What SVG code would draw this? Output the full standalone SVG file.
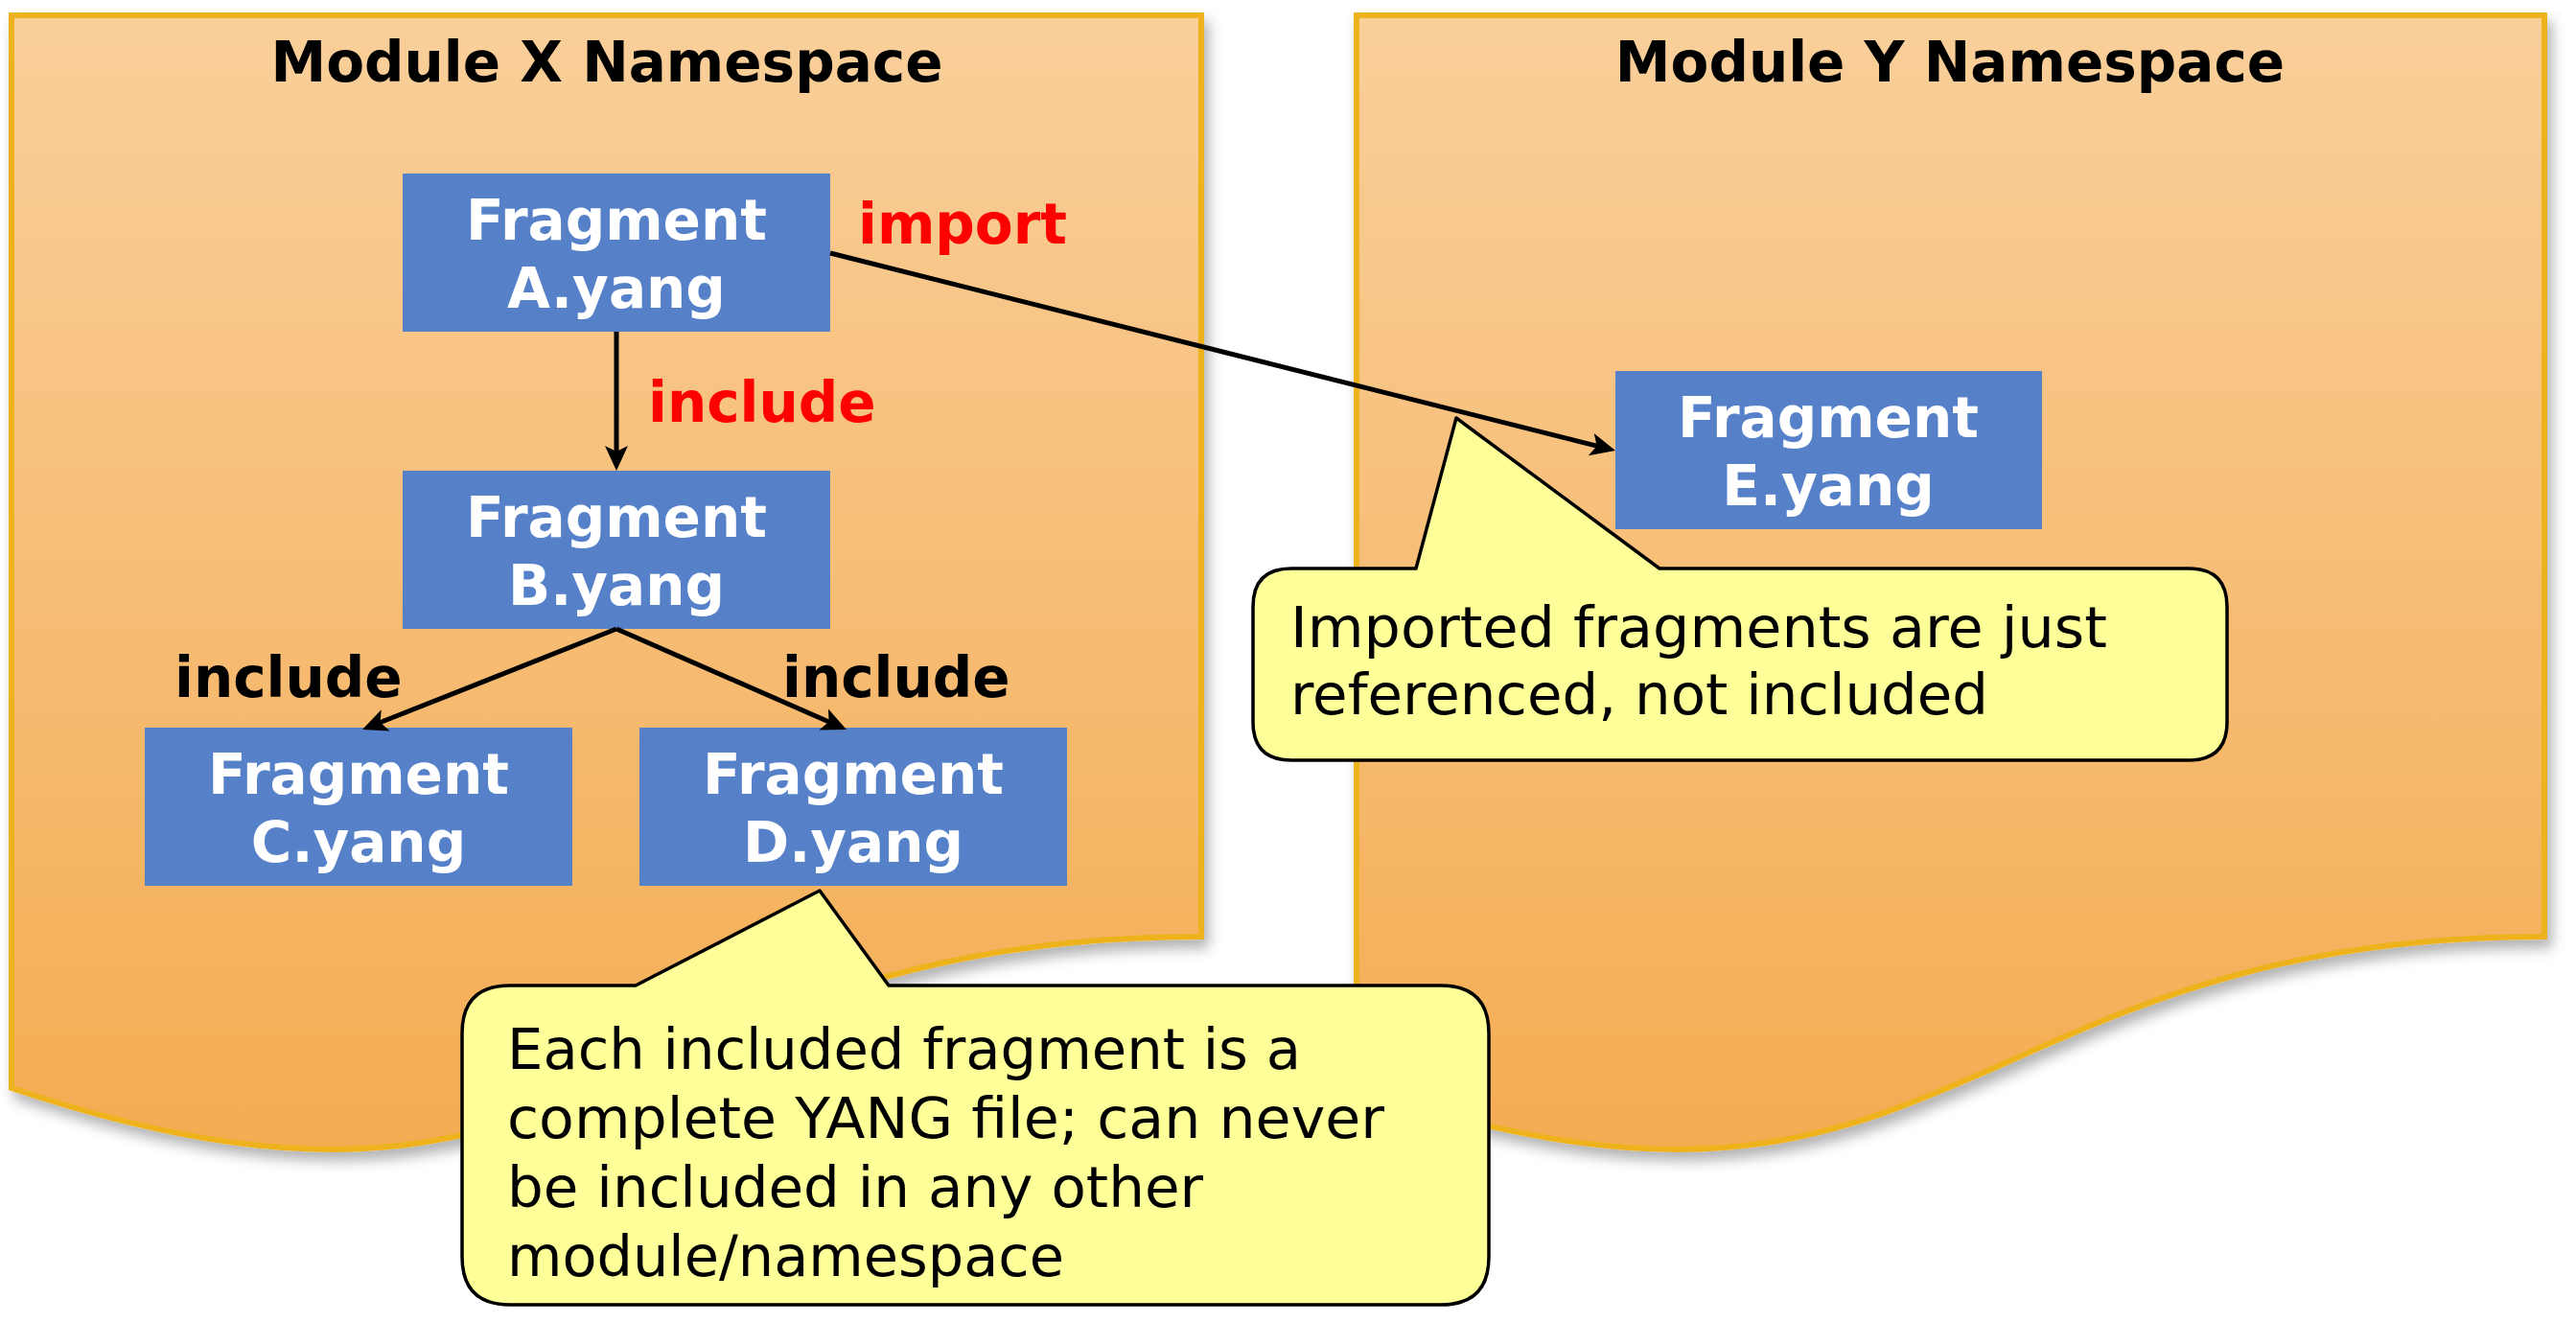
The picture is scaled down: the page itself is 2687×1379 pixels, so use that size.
<svg xmlns="http://www.w3.org/2000/svg" width="2687" height="1379" viewBox="0 0 2687 1379">
<style>
.doc{stroke:#EEB21F;stroke-width:6;filter:url(#shadow)}
.box{fill:#5681C9}
.bt{font-family:"DejaVu Sans",Verdana,sans-serif;font-weight:bold;font-size:58px;fill:#FFFFFF;text-anchor:middle}
.title{font-family:"DejaVu Sans",Verdana,sans-serif;font-weight:bold;font-size:58px;fill:#000000;text-anchor:middle}
.lbl{font-family:"DejaVu Sans",Verdana,sans-serif;font-weight:bold;font-size:58px}
.red{fill:#FF0000}
.blk{fill:#000000}
.conn{stroke:#000000;stroke-width:5;fill:none;marker-end:url(#arr)}
.call{fill:#FFFF99;stroke:#000000;stroke-width:3.5;stroke-linejoin:round}
.ct{font-family:"DejaVu Sans",Verdana,sans-serif;font-size:58px;fill:#000000}
</style>
<defs>
<linearGradient id="gx" gradientUnits="userSpaceOnUse" x1="0" y1="16" x2="0" y2="1199">
<stop offset="0" stop-color="#F9CF9A"/>
<stop offset="1" stop-color="#F4AC52"/>
</linearGradient>
<filter id="shadow" x="-5%" y="-5%" width="115%" height="115%">
<feDropShadow dx="5" dy="9" stdDeviation="7" flood-color="#000000" flood-opacity="0.3"/>
</filter>
<marker id="arr" markerUnits="userSpaceOnUse" markerWidth="30" markerHeight="26" refX="16" refY="12" orient="auto" overflow="visible">
<path d="M0,0 L26,12 L0,24 L6,12 Z" fill="#000000"/>
</marker>
</defs>

<g id="moduleX">
<path class="doc" fill="url(#gx)" d="M12,16 L1253,16 L1253,977 C632,977 632,1343 12,1135 Z"/>
<text class="title" x="633" y="85">Module X Namespace</text>
</g>
<g id="moduleY">
<path class="doc" fill="url(#gx)" d="M1415,16 L2654,16 L2654,977 C2034,977 2034,1343 1415,1135 Z"/>
<text class="title" x="2034" y="85">Module Y Namespace</text>
</g>

<g id="fragA">
<rect class="box" x="420" y="181" width="446" height="165"/>
<text class="bt" x="643" y="250">Fragment</text>
<text class="bt" x="643" y="321">A.yang</text>
</g>
<g id="fragB">
<rect class="box" x="420" y="491" width="446" height="165"/>
<text class="bt" x="643" y="560">Fragment</text>
<text class="bt" x="643" y="631">B.yang</text>
</g>
<g id="fragC">
<rect class="box" x="151" y="759" width="446" height="165"/>
<text class="bt" x="374" y="828">Fragment</text>
<text class="bt" x="374" y="899">C.yang</text>
</g>
<g id="fragD">
<rect class="box" x="667" y="759" width="446" height="165"/>
<text class="bt" x="890" y="828">Fragment</text>
<text class="bt" x="890" y="899">D.yang</text>
</g>
<g id="fragE">
<rect class="box" x="1685" y="387" width="445" height="165"/>
<text class="bt" x="1907" y="456">Fragment</text>
<text class="bt" x="1907" y="527">E.yang</text>
</g>

<g id="connectors">
<line class="conn" x1="643" y1="346" x2="643" y2="481"/>
<line class="conn" x1="643" y1="656" x2="387.3" y2="757.3"/>
<line class="conn" x1="643" y1="656" x2="873.8" y2="757"/>
<line class="conn" x1="866" y1="264" x2="1675.3" y2="467.6"/>
<text class="lbl red" x="895" y="254">import</text>
<text class="lbl red" x="676" y="440">include</text>
<text class="lbl blk" x="182" y="727">include</text>
<text class="lbl blk" x="816" y="727">include</text>
</g>

<g id="callout1">
<path class="call" d="M1347,593 L1477,593 L1519,436 L1731,593 L2283,593 Q2323,593 2323,633 L2323,753 Q2323,793 2283,793 L1347,793 Q1307,793 1307,753 L1307,633 Q1307,593 1347,593 Z"/>
<text class="ct" x="1346" y="675" textLength="852" lengthAdjust="spacingAndGlyphs">Imported fragments are just</text>
<text class="ct" x="1346" y="745" textLength="728" lengthAdjust="spacingAndGlyphs">referenced, not included</text>
</g>

<g id="callout2">
<path class="call" d="M532,1028 L663,1028 L855,929 L927,1028 L1503,1028 Q1553,1028 1553,1078 L1553,1311 Q1553,1361 1503,1361 L532,1361 Q482,1361 482,1311 L482,1078 Q482,1028 532,1028 Z"/>
<text class="ct" x="529" y="1115" textLength="828" lengthAdjust="spacingAndGlyphs">Each included fragment is a</text>
<text class="ct" x="529" y="1187" textLength="915" lengthAdjust="spacingAndGlyphs">complete YANG file; can never</text>
<text class="ct" x="529" y="1259" textLength="726" lengthAdjust="spacingAndGlyphs">be included in any other</text>
<text class="ct" x="529" y="1331" textLength="581" lengthAdjust="spacingAndGlyphs">module/namespace</text>
</g>
</svg>
